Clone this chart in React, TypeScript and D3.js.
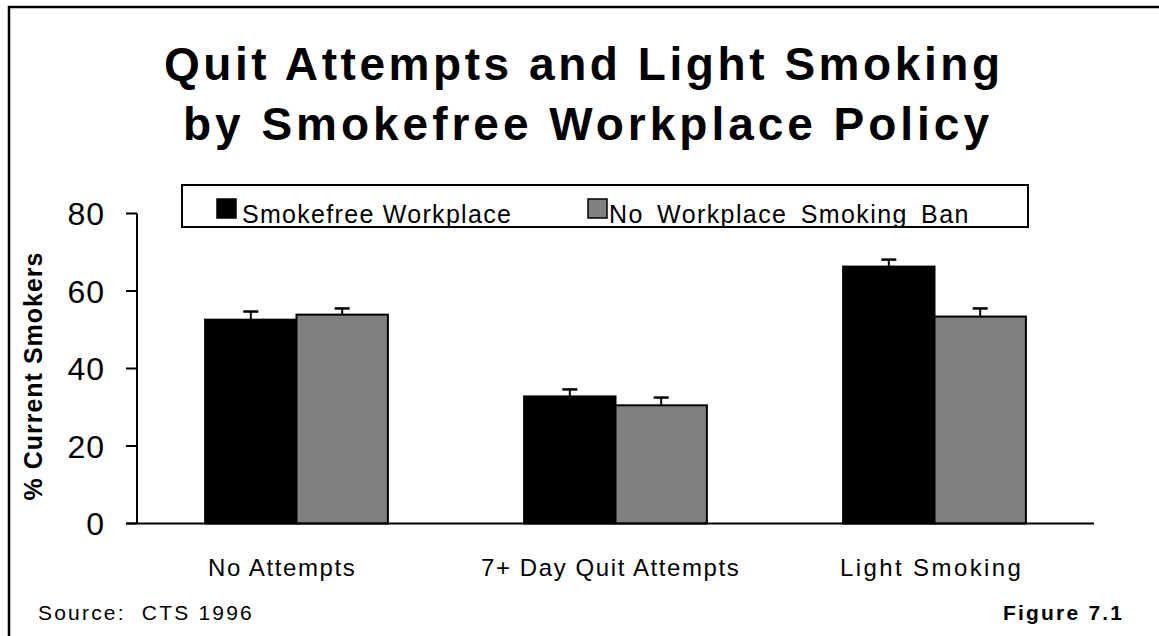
import React from "react";
import * as d3 from "d3";

const categories = ["No Attempts", "7+ Day Quit Attempts", "Light Smoking"];
const seriesNames = ["Smokefree Workplace", "No Workplace Smoking Ban"];
const smokefree = [52.6, 32.8, 66.3];
const smokefreeErr = [2.1, 1.8, 1.8];
const noBan = [53.9, 30.5, 53.4];
const noBanErr = [1.6, 2.0, 2.1];
const yTicks = [0, 20, 40, 60, 80];
const colors = ["#000000", "#808080"];

const W = 1159;
const H = 636;
const FONT = "'Liberation Sans', Arial, sans-serif";

// label start x and letter spacing
const catLabelStart = [208, 481, 840];
const catLabelSpacing = [1.6, 1.6, 2.4];

export default function App() {
  const x0 = 137, x1 = 1094, yBase = 523.5, yTop = 213.5;
  const y = d3.scaleLinear().domain([0, 80]).range([yBase, yTop]);
  const xb = d3.scaleBand<string>().domain(categories).range([x0, x1]).paddingInner(0.427).paddingOuter(0.2135);
  const xs = d3.scaleBand<number>().domain([0, 1]).range([0, xb.bandwidth()]);
  const series = [
    { vals: smokefree, errs: smokefreeErr },
    { vals: noBan, errs: noBanErr },
  ];
  return (
    <svg width={W} height={H} style={{ position: "absolute", left: 0, top: 0, background: "#fff" }} fontFamily={FONT}>
      <rect x={0} y={0} width={W} height={H} fill="#fff" />
      {/* frame */}
      <path d={`M9,${H + 5} L9,7 L${W + 5},7`} fill="none" stroke="#000" strokeWidth={2.5} />
      {/* title */}
      <text x={164} y={80} fontSize={46} fontWeight="bold" textLength={836} lengthAdjust="spacing">
        Quit Attempts and Light Smoking
      </text>
      <text x={183} y={140} fontSize={46} fontWeight="bold" textLength={806} lengthAdjust="spacing">
        by Smokefree Workplace Policy
      </text>
      {/* bars */}
      {series.map((s, si) =>
        categories.map((c, ci) => {
          const bx = (xb(c) as number) + (xs(si) as number);
          const bw = xs.bandwidth();
          const top = y(s.vals[ci]);
          const etop = y(s.vals[ci] + s.errs[ci]);
          const cx = bx + bw / 2;
          return (
            <g key={`${si}-${ci}`}>
              <line x1={cx} x2={cx} y1={top} y2={etop} stroke="#000" strokeWidth={2} />
              <line x1={cx - 7.5} x2={cx + 7.5} y1={etop} y2={etop} stroke="#000" strokeWidth={2.5} />
              <rect x={bx} y={top} width={bw} height={yBase - top} fill={colors[si]} stroke="#000" strokeWidth={2} />
            </g>
          );
        })
      )}
      {/* axes */}
      <line x1={x0} x2={x0} y1={yTop} y2={yBase} stroke="#000" strokeWidth={2} />
      <line x1={x0 - 11} x2={x1} y1={yBase} y2={yBase} stroke="#000" strokeWidth={2} />
      {yTicks.map((t) => (
        <g key={t}>
          <line x1={x0 - 11} x2={x0} y1={y(t)} y2={y(t)} stroke="#000" strokeWidth={2} />
          <text x={105} y={y(t) + 11.5} textAnchor="end" fontSize={32} letterSpacing={1}>
            {t}
          </text>
        </g>
      ))}
      {categories.map((c, i) => (
        <text key={c} x={catLabelStart[i]} y={576} fontSize={24} letterSpacing={catLabelSpacing[i]}>
          {c}
        </text>
      ))}
      {/* y label */}
      <text transform={`translate(42,376) rotate(-90)`} textAnchor="middle" fontSize={25} fontWeight="bold" letterSpacing={1}>
        % Current Smokers
      </text>
      {/* legend */}
      <rect x={182} y={185} width={846} height={42} fill="#fff" stroke="#000" strokeWidth={2} />
      <rect x={217} y={199} width={19} height={19} fill={colors[0]} stroke="#000" strokeWidth={1.5} />
      <text x={242} y={223} fontSize={25} letterSpacing={1.3}>{seriesNames[0]}</text>
      <rect x={588} y={199} width={19} height={19} fill={colors[1]} stroke="#000" strokeWidth={1.5} />
      <text x={609} y={223} fontSize={25} letterSpacing={1.4} wordSpacing={5}>{seriesNames[1]}</text>
      {/* footer */}
      <text x={38} y={620} fontSize={21} letterSpacing={2.2} style={{ whiteSpace: "pre" }}>
        {"Source:  CTS 1996"}
      </text>
      <text x={1003} y={620} fontSize={21} fontWeight="bold" textLength={119} lengthAdjust="spacing">Figure 7.1</text>
    </svg>
  );
}
